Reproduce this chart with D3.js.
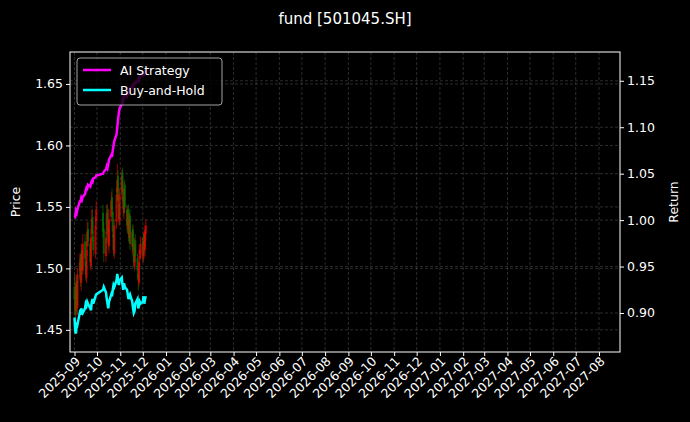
<!DOCTYPE html>
<html><head><meta charset="utf-8">
<script src="https://cdn.jsdelivr.net/npm/d3@7"></script>
<style>body{margin:0;background:#000;}svg{display:block;font-family:"DejaVu Sans",sans-serif;}</style>
</head><body><svg id="c" width="690" height="422"></svg>
<script>
const title = "fund [501045.SH]";
const seriesNames = ["AI Strategy", "Buy-and-Hold"];
const openP = [1.485,1.478,1.465,1.490,1.468,1.498,1.508,1.488,1.515,1.498,1.522,1.506,1.492,1.518,1.532,1.520,1.502,1.528,1.542,1.526,1.512,1.538,
1.545,1.532,1.510,1.528,1.548,1.533,1.518,1.542,1.558,1.546,1.528,1.512,1.538,1.562,1.575,1.552,1.538,
1.562,1.578,1.558,1.545,1.568,1.548,1.532,1.548,1.525,1.543,1.518,1.532,1.512,1.502,1.523,1.508,1.495,1.488,1.508,1.512,
1.522,1.508,1.528,1.515,1.528];
const closeP = [1.475,1.462,1.488,1.470,1.495,1.505,1.490,1.512,1.500,1.520,1.508,1.495,1.515,1.530,1.522,1.505,1.525,1.540,1.528,1.515,1.535,1.548,
1.530,1.512,1.525,1.545,1.535,1.520,1.540,1.555,1.548,1.530,1.515,1.535,1.560,1.572,1.555,1.540,1.560,
1.575,1.560,1.548,1.565,1.550,1.535,1.545,1.528,1.540,1.520,1.530,1.515,1.505,1.520,1.510,1.498,1.490,1.505,1.515,1.520,
1.510,1.525,1.518,1.530,1.535];
const highP = [1.495,1.482,1.495,1.495,1.500,1.512,1.512,1.520,1.520,1.528,1.528,1.510,1.522,1.538,1.538,1.525,1.532,1.548,1.548,1.530,1.542,1.555,
1.552,1.538,1.530,1.552,1.552,1.538,1.548,1.562,1.565,1.550,1.532,1.540,1.566,1.585,1.580,1.558,1.565,
1.580,1.582,1.562,1.570,1.572,1.552,1.550,1.552,1.545,1.548,1.535,1.536,1.518,1.525,1.528,1.512,1.500,1.510,1.520,1.526,
1.526,1.530,1.532,1.535,1.540];
const lowP = [1.465,1.450,1.460,1.465,1.462,1.492,1.485,1.482,1.495,1.495,1.502,1.490,1.488,1.510,1.518,1.500,1.498,1.522,1.522,1.510,1.508,1.532,
1.525,1.505,1.505,1.522,1.530,1.515,1.512,1.538,1.542,1.525,1.510,1.508,1.532,1.555,1.550,1.535,1.535,
1.556,1.555,1.542,1.540,1.545,1.530,1.528,1.522,1.520,1.515,1.512,1.510,1.500,1.498,1.505,1.492,1.482,1.485,1.502,1.508,
1.505,1.505,1.512,1.510,1.522];
const aiReturn = [1.005,1.004,1.010,1.008,1.012,1.020,1.020,1.024,1.022,1.025,1.028,1.032,1.035,1.034,1.038,1.036,1.040,1.042,1.041,1.045,1.046,1.048,
1.050,1.052,1.055,1.058,1.056,1.060,1.065,1.070,1.068,1.075,1.080,1.085,1.092,1.100,1.108,1.115,1.120,
1.125,1.130,1.128,1.132,1.135,1.133,1.138,1.140,1.138,1.142,1.145,1.143,1.146,1.148,1.147,1.150,1.152,1.150,1.153,1.155,
1.156,1.158,1.157,1.160,1.162];
const bhReturn = [0.895,0.880,0.878,0.890,0.888,0.900,0.898,0.905,0.902,0.900,0.905,0.910,0.908,0.912,0.910,0.905,0.903,0.912,0.915,0.910,0.918,0.920,
0.925,0.928,0.922,0.915,0.910,0.905,0.912,0.920,0.918,0.925,0.930,0.928,0.935,0.942,0.935,0.930,0.935,
0.938,0.930,0.925,0.932,0.928,0.925,0.920,0.915,0.918,0.920,0.912,0.905,0.900,0.902,0.910,0.915,0.905,0.908,0.912,0.910,
0.912,0.918,0.910,0.915,0.918];
const priceTicks = [1.45,1.50,1.55,1.60,1.65];
const returnTicks = [0.90,0.95,1.00,1.05,1.10,1.15];

const dates = [];
for (let d = new Date(2025,8,1); dates.length < closeP.length; d = d3.timeDay.offset(d,1)) {
  const wd = d.getDay();
  if (wd===0||wd===6) continue;
  if (d.getMonth()===9 && d.getDate()<=8) continue;
  dates.push(new Date(d));
}

const svg = d3.select("#c");
const L=70,R=620,T=52,B=352;
const x = d3.scaleTime().domain([new Date(2025,7,26), new Date(2027,7,29)]).range([L,R]);
const yP = d3.scaleLinear().domain([1.432,1.676]).range([B,T]);
const yR = d3.scaleLinear().domain([0.858,1.181]).range([B,T]);
const months = d3.timeMonth.range(new Date(2025,8,1), new Date(2027,7,2));

svg.append("text").attr("x",345).attr("y",24).attr("text-anchor","middle").attr("fill","#fff").attr("font-size",15).text(title);

const grid = svg.append("g").attr("stroke","#4a4a4a").attr("stroke-width",0.6).attr("stroke-dasharray","3,2");
months.forEach(m=>grid.append("line").attr("x1",x(m)).attr("x2",x(m)).attr("y1",T).attr("y2",B));
priceTicks.forEach(v=>grid.append("line").attr("x1",L).attr("x2",R).attr("y1",yP(v)).attr("y2",yP(v)));
returnTicks.forEach(v=>grid.append("line").attr("x1",L).attr("x2",R).attr("y1",yR(v)).attr("y2",yR(v)));

svg.append("clipPath").attr("id","cp").append("rect").attr("x",L).attr("y",T).attr("width",R-L).attr("height",B-T);
const plot = svg.append("g").attr("clip-path","url(#cp)");
const bw = 2;
dates.forEach((d,i)=>{
  const up = closeP[i]>=openP[i];
  const col = up ? "#ff0000" : "#008000";
  const g = plot.append("g").attr("opacity",0.75);
  g.append("line").attr("x1",x(d)).attr("x2",x(d)).attr("y1",yP(highP[i])).attr("y2",yP(lowP[i])).attr("stroke",col).attr("stroke-width",0.8);
  const y1=yP(Math.max(openP[i],closeP[i])), y2=yP(Math.min(openP[i],closeP[i]));
  g.append("rect").attr("x",x(d)-bw/2).attr("width",bw).attr("y",y1).attr("height",Math.max(0.8,y2-y1)).attr("fill",col);
});
const line = (arr)=>d3.line().x((d,i)=>x(dates[i])).y(d=>yR(d))(arr);
plot.append("path").attr("d",line(aiReturn)).attr("fill","none").attr("stroke","#ff00ff").attr("stroke-width",2.5);
plot.append("path").attr("d",line(bhReturn)).attr("fill","none").attr("stroke","#00ffff").attr("stroke-width",2.5);

const xa = svg.append("g").attr("transform",`translate(0,${B})`).call(d3.axisBottom(x).tickValues(months).tickFormat(d3.timeFormat("%Y-%m")).tickSize(4));
xa.selectAll("text").attr("text-anchor","end").attr("transform","translate(-2,2) rotate(-45)").attr("dy","0.35em").attr("dx","0");
const ya = svg.append("g").attr("transform",`translate(${L},0)`).call(d3.axisLeft(yP).tickValues(priceTicks).tickFormat(d3.format(".2f")).tickSize(4));
const yb = svg.append("g").attr("transform",`translate(${R},0)`).call(d3.axisRight(yR).tickValues(returnTicks).tickFormat(d3.format(".2f")).tickSize(4));
[xa,ya,yb].forEach(a=>{a.select(".domain").remove();a.selectAll("line").attr("stroke","#fff");a.selectAll("text").attr("fill","#fff").attr("font-size",12.5).attr("font-family","DejaVu Sans");});
svg.append("rect").attr("x",L).attr("y",T).attr("width",R-L).attr("height",B-T).attr("fill","none").attr("stroke","#fff").attr("stroke-width",1);

svg.append("text").attr("transform",`translate(20,${(T+B)/2}) rotate(-90)`).attr("text-anchor","middle").attr("fill","#fff").attr("font-size",12.5).text("Price");
svg.append("text").attr("transform",`translate(678,${(T+B)/2}) rotate(-90)`).attr("text-anchor","middle").attr("fill","#fff").attr("font-size",12.5).text("Return");

const lg = svg.append("g");
lg.append("rect").attr("x",77).attr("y",58).attr("width",145).attr("height",47).attr("rx",3).attr("fill","#000").attr("fill-opacity",0.8).attr("stroke","#ccc").attr("stroke-width",0.8);
[["#ff00ff",70],["#00ffff",90]].forEach((c,i)=>{
  lg.append("line").attr("x1",83).attr("x2",111).attr("y1",c[1]).attr("y2",c[1]).attr("stroke",c[0]).attr("stroke-width",2.5);
  lg.append("text").attr("x",120).attr("y",c[1]+4.5).attr("fill","#fff").attr("font-size",12.5).text(seriesNames[i]);
});
</script></body></html>
